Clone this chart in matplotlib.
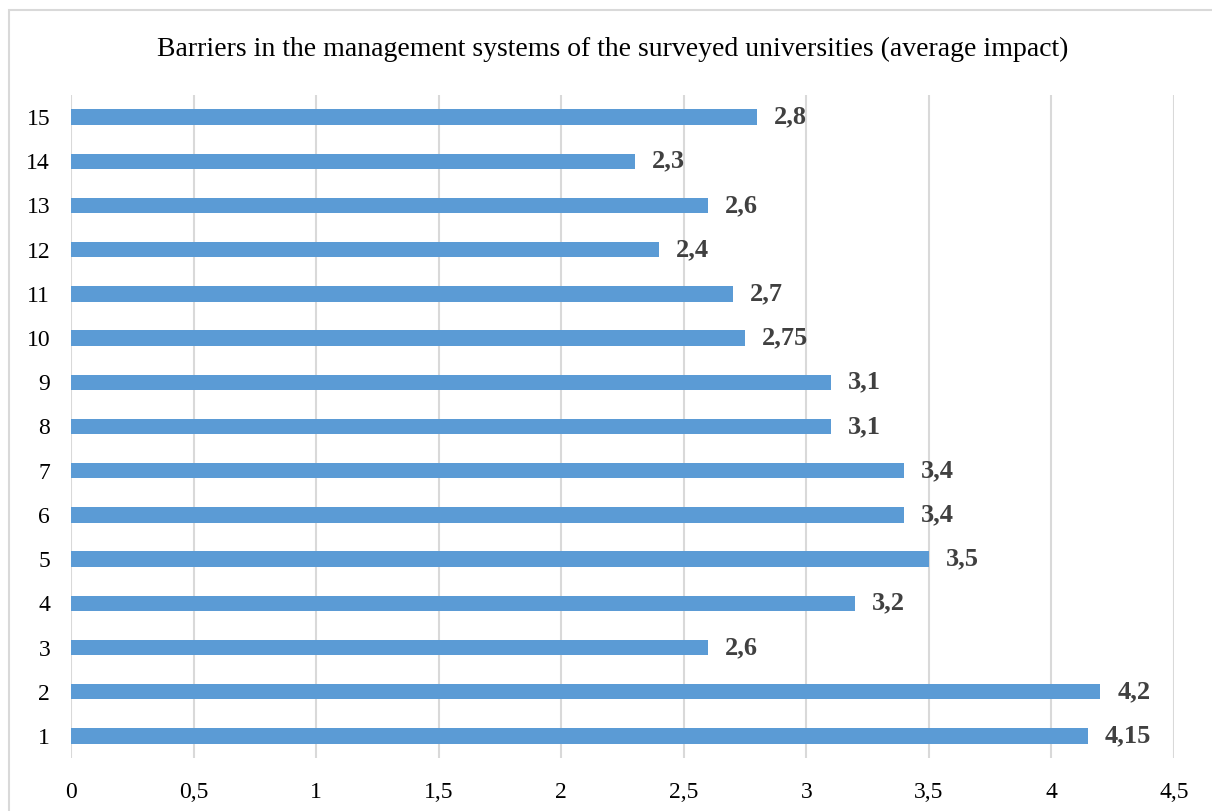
import matplotlib
matplotlib.use("Agg")
import matplotlib.pyplot as plt
from matplotlib.patches import Rectangle

categories = [str(i) for i in range(1, 16)]
values = [4.15, 4.2, 2.6, 3.2, 3.5, 3.4, 3.4, 3.1, 3.1, 2.75, 2.7, 2.4, 2.6, 2.3, 2.8]
xticks = [0, 0.5, 1, 1.5, 2, 2.5, 3, 3.5, 4, 4.5]
title = "Barriers in the management systems of the surveyed universities (average impact)"

plt.rcParams['font.family'] = ['Liberation Serif', 'DejaVu Serif']

def fmt(v):
    s = ('%.2f' % v).rstrip('0').rstrip('.')
    return s.replace('.', ',')

fig = plt.figure(figsize=(12.12, 8.11), dpi=100)
fig.patches.append(Rectangle((9/1212, -0.1), 1.2, 1 - 10/811 + 0.1, transform=fig.transFigure,
                             fill=False, edgecolor='#d9d9d9', linewidth=1.5))
ax = fig.add_axes([71/1212, 1 - 758/811, (1174-71)/1212, (758-95)/811])

pos = list(range(len(categories)))
ax.barh(pos, values, height=0.35, color='#5B9BD5', zorder=3)
for p, v in zip(pos, values):
    ax.annotate(fmt(v), (v, p), xytext=(12, 0), textcoords='offset points',
                ha='left', va='center', fontsize=19, fontweight='bold', color='#404040', zorder=4)

ax.set_xlim(0, 4.5)
ax.set_ylim(-0.5, len(categories) - 0.5)
ax.set_yticks(pos)
ax.set_yticklabels(categories)
ax.set_xticks(xticks)
ax.set_xticklabels([fmt(t) for t in xticks])
ax.tick_params(axis='both', length=0, labelsize=17, colors='#000000')
ax.tick_params(axis='y', pad=15)
ax.tick_params(axis='x', pad=17)
ax.grid(axis='x', color='#d9d9d9', linewidth=1.5, zorder=0)
for s in ax.spines.values():
    s.set_visible(False)

fig.text(613/1212, 1 - 49/811, title, ha='center', va='center', fontsize=20, color='#000000')

fig.savefig('out.png', dpi=100)
